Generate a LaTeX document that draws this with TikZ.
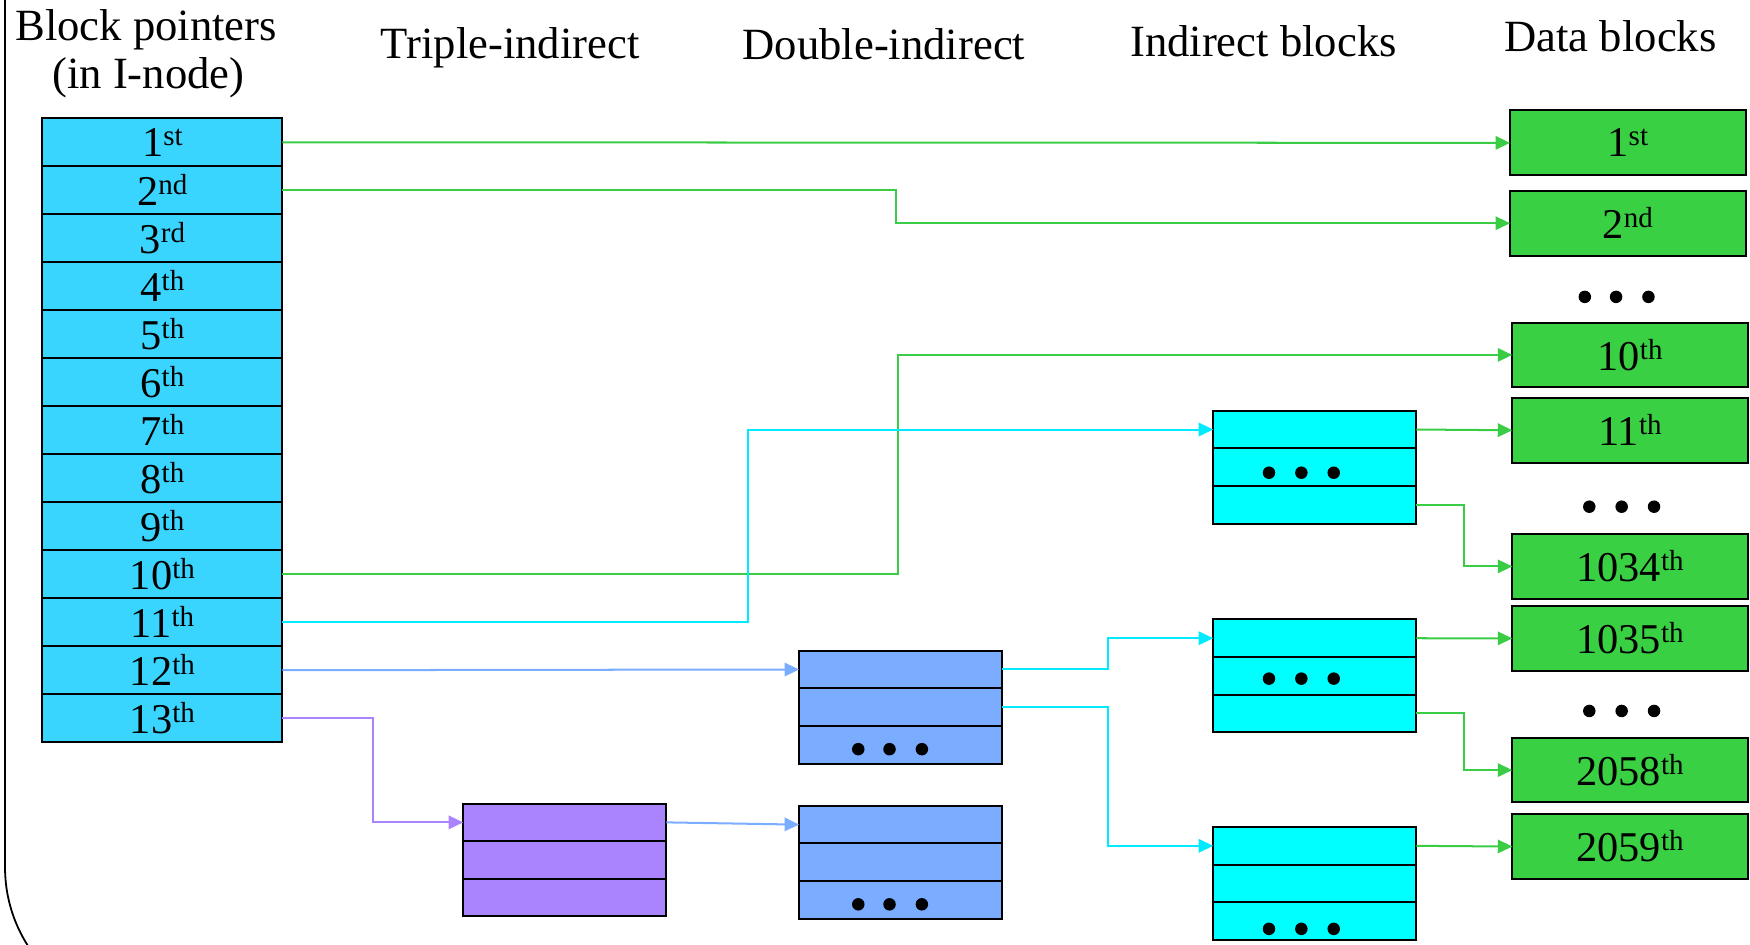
\documentclass[tikz,border=0pt]{standalone}
\usepackage{fontspec}
\setmainfont{Liberation Serif}
\usetikzlibrary{arrows.meta}
\definecolor{inodec}{RGB}{57,213,255}
\definecolor{datac}{RGB}{58,208,67}
\definecolor{indc}{RGB}{0,255,255}
\definecolor{dblc}{RGB}{122,173,255}
\definecolor{trpc}{RGB}{170,132,255}
\definecolor{greenln}{RGB}{58,204,69}
\definecolor{cyanln}{RGB}{0,235,255}
\definecolor{blueln}{RGB}{122,173,255}
\definecolor{purpln}{RGB}{170,132,255}
\newcommand\ordl[2]{#1\raisebox{10pt}{\fontsize{26}{26}\selectfont #2}}
\newcommand\threerows[4]{%
  \node[rowbox, fill=#4, anchor=north] (#1a) at (#2,#3) {};
  \node[rowbox, fill=#4, anchor=north] (#1b) at (#1a.south) {};
  \node[rowbox, fill=#4, anchor=north] (#1c) at (#1b.south) {};
}
\tikzset{
  cellbox/.style={draw=black, line width=1.8pt, inner sep=0pt, outer sep=0pt,
    minimum width=215pt, minimum height=43pt, fill=inodec,
    font=\fontsize{38}{40}\selectfont},
  databox/.style={draw=black, line width=1.8pt, inner sep=0pt, outer sep=0pt,
    minimum width=211pt, minimum height=58pt, fill=datac,
    font=\fontsize{38}{40}\selectfont},
  rowbox/.style={draw=black, line width=1.8pt, inner sep=0pt, outer sep=0pt,
    minimum width=182pt, minimum height=33.7pt},
  hdr/.style={font=\fontsize{40}{43}\selectfont, inner sep=0pt, anchor=base},
  link/.style={line width=1.8pt, -{Triangle[length=13pt,width=12pt]}},
  dot/.style={fill=black},
}
\begin{document}
\begin{tikzpicture}[x=1pt,y=-1pt]
\useasboundingbox (0,0) rectangle (1568,846);
% frame
\begin{scope}
  \clip (0,0) rectangle (1568,846);
  \draw[line width=1.6pt, rounded corners=131pt] (4.5,-600) rectangle (2000,908);
\end{scope}
% headers
\node[hdr] (h1a) at (131,36) {Block pointers};
\node[hdr] (h1b) at (133,79) {(in I-node)};
\node[hdr] (h2) at (457,52) {Triple-indirect};
\node[hdr] (h3) at (792,53) {Double-indirect};
\node[hdr] (h4) at (1132,51) {Indirect blocks};
\node[hdr] (h5) at (1443,46) {Data blocks};
% inode cells
\foreach \n/\s in {1/st,2/nd,3/rd,4/th,5/th,6/th,7/th,8/th,9/th,10/th,11/th,12/th,13/th}
  \node[cellbox] (i\n) at (145.5,{106+43*(\n-0.5)}) {\ordl{\n}{\s}};
% data blocks
\node[databox] (d1) at (1458.5,128) {\ordl{1}{st}};
\node[databox] (d2) at (1458.5,200) {\ordl{2}{nd}};
\node[databox] (d10) at (1460.5,318) {\ordl{10}{th}};
\node[databox] (d11) at (1460.5,385.5) {\ordl{11}{th}};
\node[databox] (d1034) at (1460.5,507.5) {\ordl{1034}{th}};
\node[databox] (d1035) at (1460.5,572) {\ordl{1035}{th}};
\node[databox] (d2058) at (1460.5,690) {\ordl{2058}{th}};
\node[databox] (d2059) at (1460.5,758.5) {\ordl{2059}{th}};
\foreach \x in {1420,1448,1477} \fill[dot] (\x,266) circle[radius=5.6pt];
\foreach \x in {1424,1453,1482} \fill[dot] (\x,454) circle[radius=5.6pt];
\foreach \x in {1424,1453,1482} \fill[dot] (\x,637) circle[radius=5.6pt];
% indirect blocks
\threerows{ib1}{1178}{368}{indc}
\threerows{ib2}{1178}{555}{indc}
\threerows{ib3}{1178}{741}{indc}
% double-indirect
\threerows{db1}{807}{583}{dblc}
\threerows{db2}{807}{722}{dblc}
% triple-indirect
\threerows{tb1}{506}{720}{trpc}
% dots in blocks
\foreach \dx in {-41,-12,17} {
  \fill[dot] ([xshift=\dx pt, yshift=-5pt]ib1b.center) circle[radius=5.6pt];
  \fill[dot] ([xshift=\dx pt, yshift=-2.5pt]ib2b.center) circle[radius=5.6pt];
  \fill[dot] ([xshift=\dx pt, yshift=-7pt]ib3c.center) circle[radius=5.6pt];
}
\foreach \dx in {-38,-10,19} {
  \fill[dot] ([xshift=\dx pt, yshift=-4pt]db1c.center) circle[radius=5.6pt];
  \fill[dot] ([xshift=\dx pt, yshift=-4pt]db2c.center) circle[radius=5.6pt];
}
% connectors
\draw[link, greenln] (i1.east) -- (d1.west);
\draw[link, greenln] (i2.east) -- ++(550,0) |- (d2.west);
\draw[link, greenln] (i10.east) -- ++(552,0) |- (d10.west);
\draw[link, cyanln] (i11.east) -- ++(417,0) |- (ib1a.west);
\draw[link, blueln] (i12.east) -- (db1a.west);
\draw[link, purpln] (i13.east) -- ++(81,0) |- (tb1a.west);
\draw[link, blueln] (tb1a.east) -- (db2a.west);
\draw[link, cyanln] (db1a.east) -- ++(95,0) |- (ib2a.west);
\draw[link, cyanln] (db1b.east) -- ++(95,0) |- (ib3a.west);
\draw[link, greenln] (ib1a.east) -- (d11.west);
\draw[link, greenln] (ib1c.east) -- ++(43,0) |- (d1034.west);
\draw[link, greenln] (ib2a.east) -- (d1035.west);
\draw[link, greenln] (ib2c.east) -- ++(43,0) |- (d2058.west);
\draw[link, greenln] (ib3a.east) -- (d2059.west);
\end{tikzpicture}
\end{document}
